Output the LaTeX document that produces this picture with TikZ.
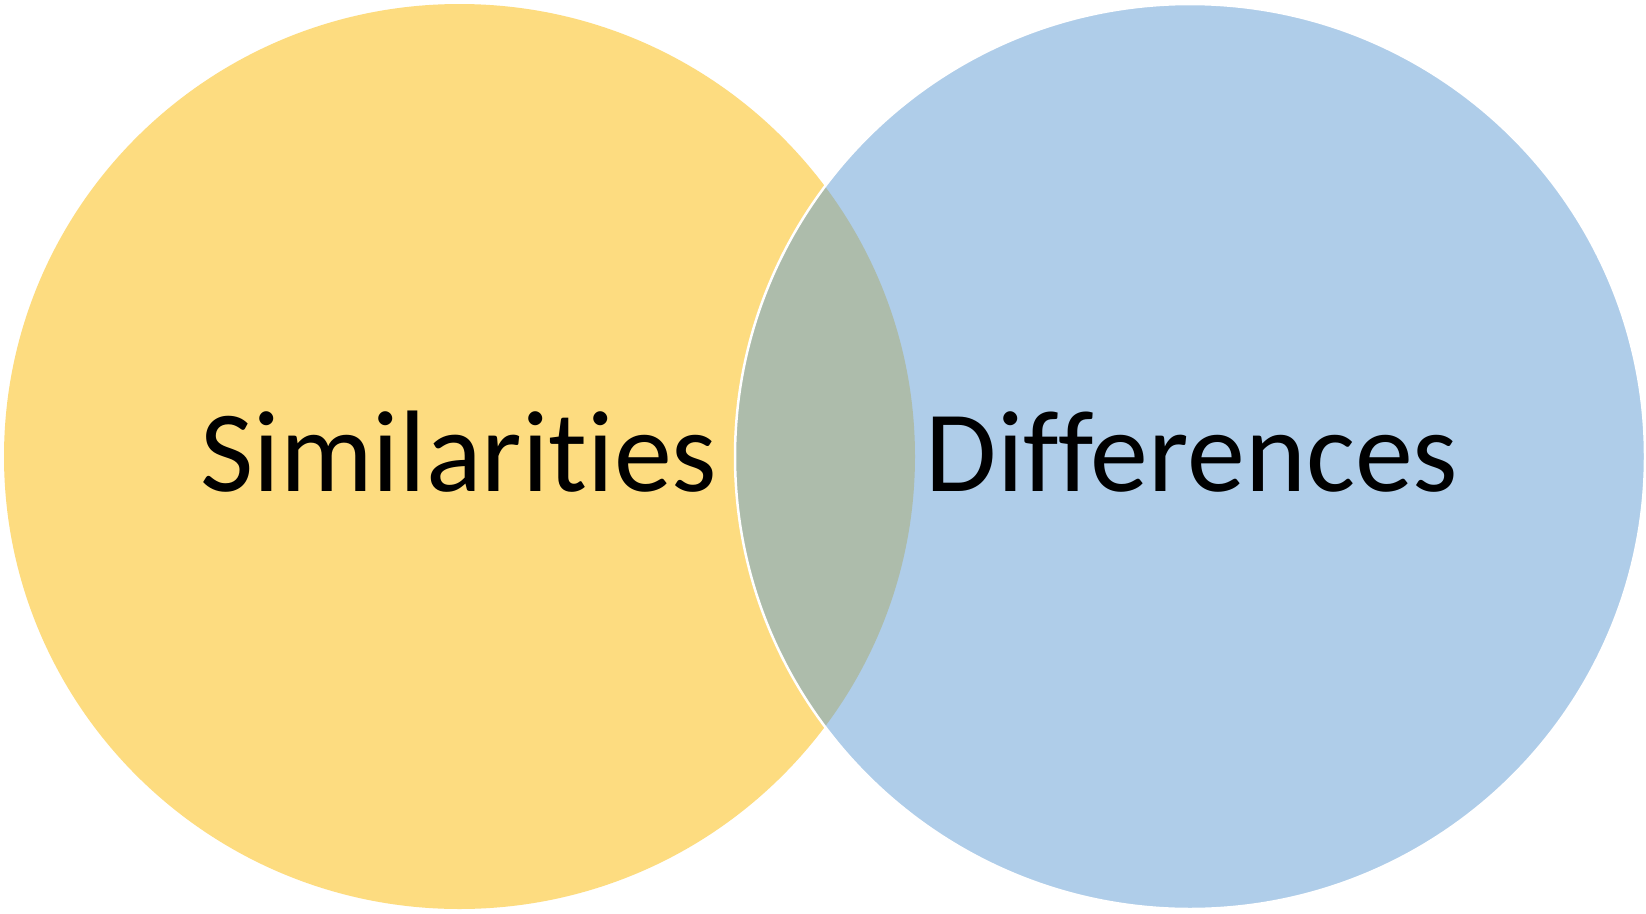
\documentclass[tikz,border=0pt]{standalone}
\usepackage{fontspec}
\setmainfont[RawFeature={-liga;-clig;-dlig}]{Carlito}
\definecolor{vyellow}{HTML}{FDDC80}
\definecolor{vblue}{HTML}{AFCDE9}
\definecolor{voverlap}{HTML}{ADBCAB}
\begin{document}
\begin{tikzpicture}[x=1pt,y=-1pt,
  lbl/.style={font=\fontsize{116}{130}\selectfont, inner sep=0pt, anchor=base, text=black}]
\useasboundingbox (0,0) rectangle (1646,913);
\fill[white] (0,0) rectangle (1646,913);
\coordinate (lc) at (459.5,456.5);
\coordinate (rc) at (1190,456.5);
\fill[vyellow] (lc) ellipse [x radius=455.5, y radius=452.5];
\fill[vblue] (rc) ellipse [x radius=455, y radius=452.5];
\begin{scope}
  \clip (lc) ellipse [x radius=455.5, y radius=452.5];
  \fill[voverlap] (rc) ellipse [x radius=455, y radius=452.5];
\end{scope}
\draw[white, line width=2.5pt] (rc) ellipse [x radius=455, y radius=452.5];
\node[lbl] (sim) at (459,491) {Similarities};
\node[lbl] (dif) at (1192,491) {Differences};
\end{tikzpicture}
\end{document}
